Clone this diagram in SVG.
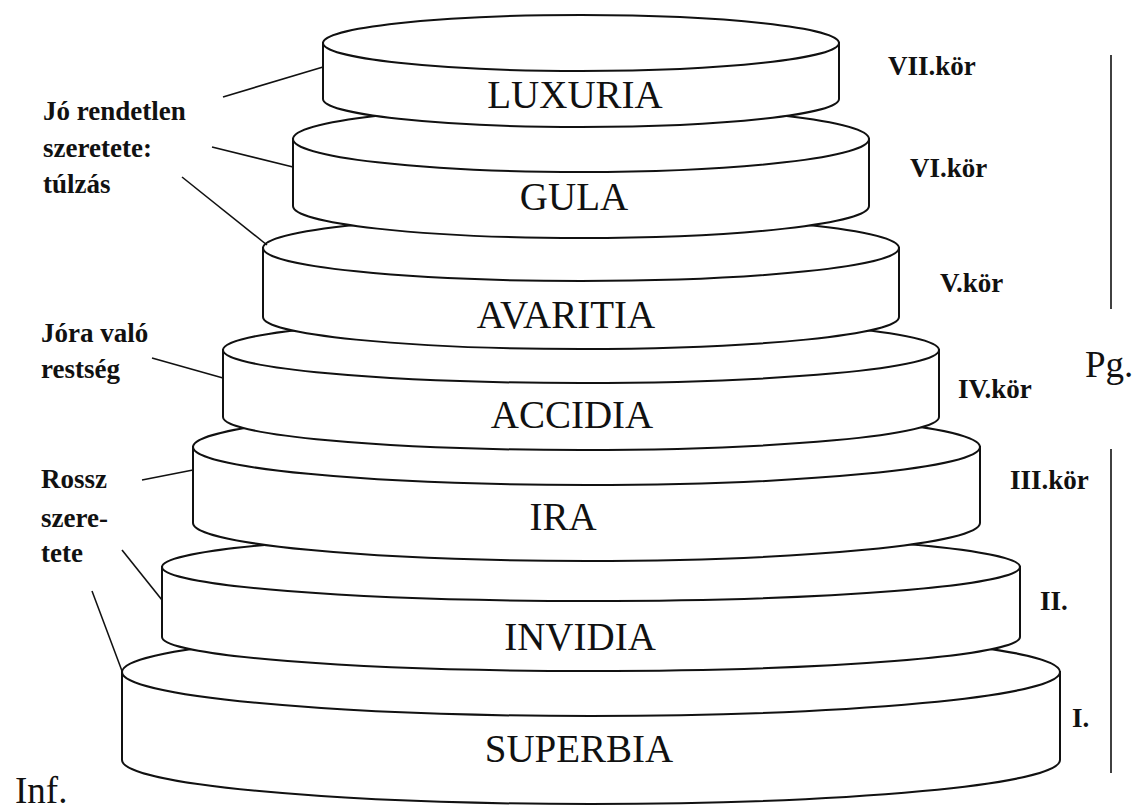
<svg xmlns="http://www.w3.org/2000/svg" width="1137" height="809" viewBox="0 0 1137 809">
<style>
.cyl{fill:#fff;stroke:#111;stroke-width:2}
.lbl{font-family:"Liberation Serif","Times New Roman",serif;font-size:39px;fill:#111;text-anchor:middle}
.side{font-family:"Liberation Serif","Times New Roman",serif;font-size:27px;font-weight:bold;fill:#111}
.big{font-family:"Liberation Serif","Times New Roman",serif;font-size:37px;fill:#111}
.lead{stroke:#111;stroke-width:1.6;fill:none}
</style>
<rect width="1137" height="809" fill="#fff"/>
<g id="superbia">
<path class="cyl" d="M122,672 L122,760 A469,44 0 0 0 1060,760 L1060,672 Z"/>
<ellipse class="cyl" cx="591" cy="672" rx="469" ry="44"/>
<text class="lbl" x="579" y="762">SUPERBIA</text>
</g>
<g id="invidia">
<path class="cyl" d="M162,567 L162,637 A429,34 0 0 0 1020,637 L1020,567 Z"/>
<ellipse class="cyl" cx="591" cy="567" rx="429" ry="34"/>
<text class="lbl" x="580" y="650">INVIDIA</text>
</g>
<g id="ira">
<path class="cyl" d="M193,447 L193,523 A393.5,38 0 0 0 980,523 L980,447 Z"/>
<ellipse class="cyl" cx="586.5" cy="447" rx="393.5" ry="38"/>
<text class="lbl" x="563" y="530">IRA</text>
</g>
<g id="accidia">
<path class="cyl" d="M223,350 L223,417 A358,33 0 0 0 939,417 L939,350 Z"/>
<ellipse class="cyl" cx="581" cy="350" rx="358" ry="33"/>
<text class="lbl" x="572" y="428">ACCIDIA</text>
</g>
<g id="avaritia">
<path class="cyl" d="M263,248 L263,317 A318,32 0 0 0 899,317 L899,248 Z"/>
<ellipse class="cyl" cx="581" cy="248" rx="318" ry="33"/>
<text class="lbl" x="566" y="328">AVARITIA</text>
</g>
<g id="gula">
<path class="cyl" d="M293,139 L293,206 A288,32 0 0 0 869,206 L869,139 Z"/>
<ellipse class="cyl" cx="581" cy="139" rx="288" ry="33"/>
<text class="lbl" x="574" y="210">GULA</text>
</g>
<g id="luxuria">
<path class="cyl" d="M323,43 L323,99 A258,28 0 0 0 839,99 L839,43 Z"/>
<ellipse class="cyl" cx="581" cy="43" rx="258" ry="28"/>
<text class="lbl" x="575" y="108">LUXURIA</text>
</g>
<g id="connectors">
<line class="lead" x1="223" y1="97" x2="323" y2="67"/>
<line class="lead" x1="212" y1="147" x2="293" y2="167"/>
<line class="lead" x1="182" y1="177" x2="267" y2="245"/>
<line class="lead" x1="152" y1="358" x2="223" y2="378"/>
<line class="lead" x1="142" y1="480" x2="193" y2="470"/>
<line class="lead" x1="122" y1="550" x2="162" y2="600"/>
<line class="lead" x1="92" y1="591" x2="122" y2="671"/>
<line class="lead" x1="1111" y1="55" x2="1111" y2="309"/>
<line class="lead" x1="1111" y1="449" x2="1111" y2="773"/>
</g>
<g id="left-labels">
<text class="side"><tspan x="43" y="120">Jó rendetlen</tspan><tspan x="43" y="157">szeretete:</tspan><tspan x="43" y="193">túlzás</tspan></text>
<text class="side"><tspan x="41" y="342">Jóra való</tspan><tspan x="41" y="378">restség</tspan></text>
<text class="side"><tspan x="41" y="488">Rossz</tspan><tspan x="41" y="527">szere-</tspan><tspan x="41" y="562">tete</tspan></text>
</g>
<g id="right-labels">
<text class="side" x="888" y="75">VII.kör</text>
<text class="side" x="910" y="177">VI.kör</text>
<text class="side" x="940" y="292">V.kör</text>
<text class="side" x="958" y="398">IV.kör</text>
<text class="side" x="1010" y="489">III.kör</text>
<text class="side" x="1040" y="610">II.</text>
<text class="side" x="1072" y="727">I.</text>
<text class="big" x="1085" y="377">Pg.</text>
<text class="big" x="15" y="803">Inf.</text>
</g>
</svg>
